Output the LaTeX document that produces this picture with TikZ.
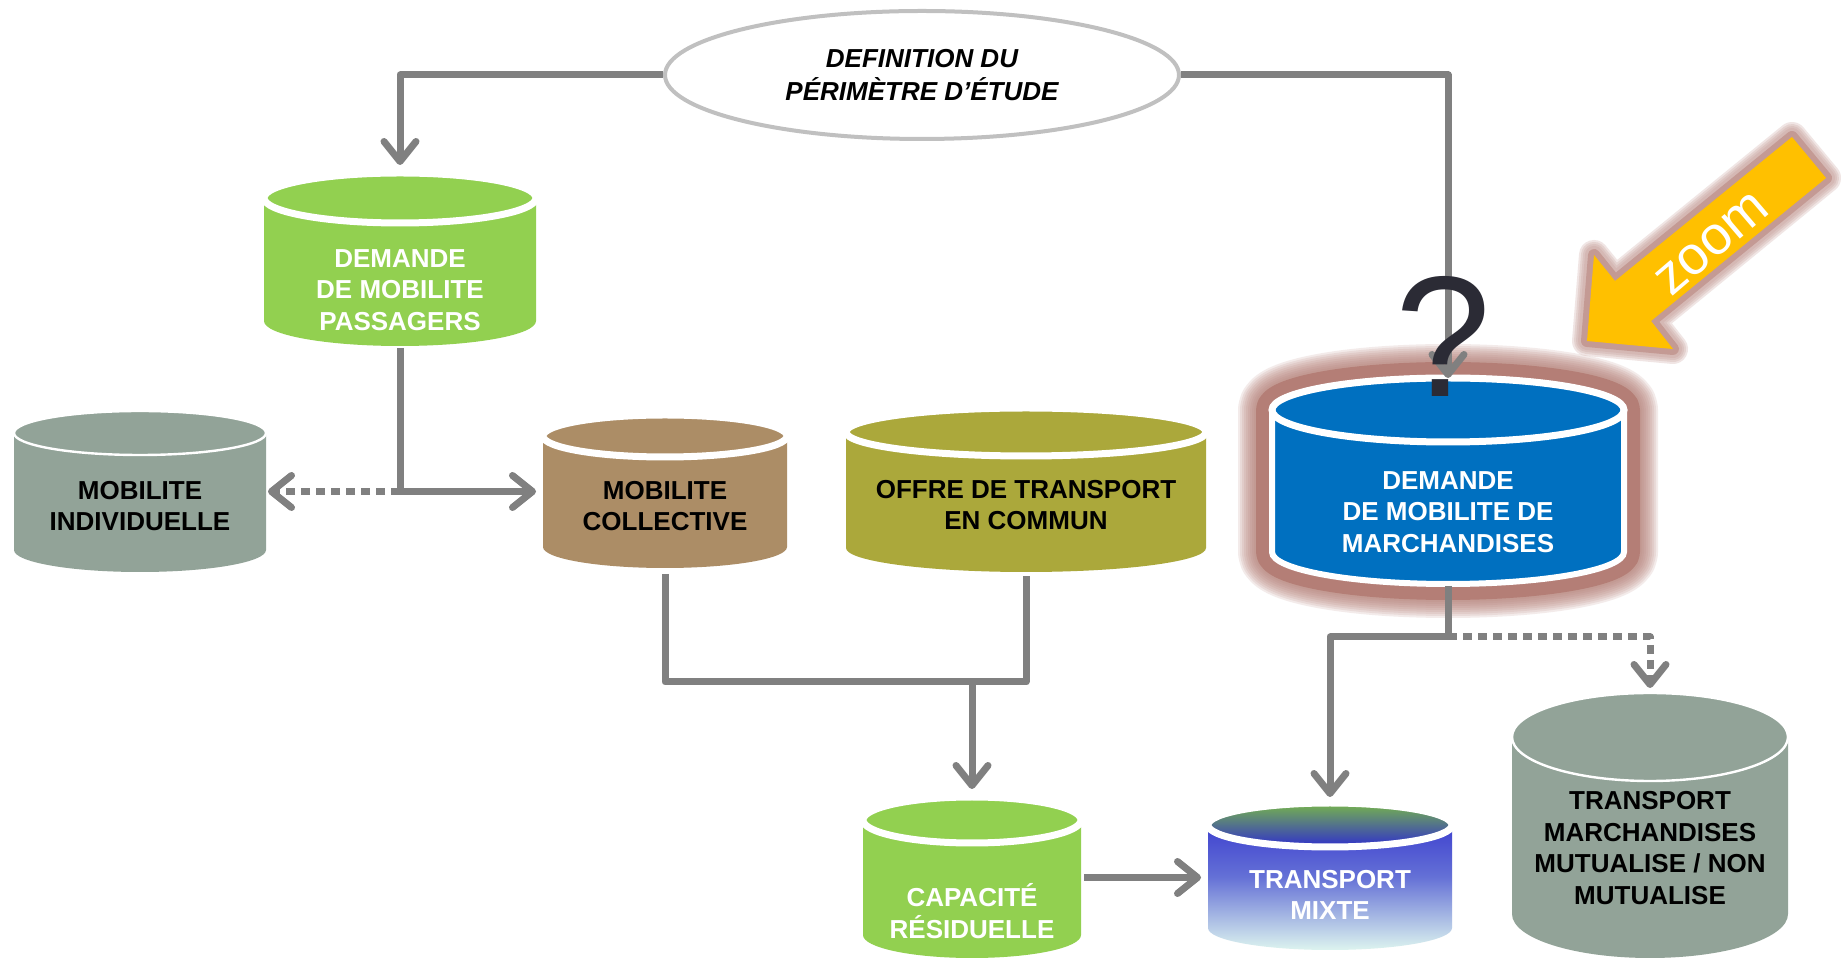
\documentclass[tikz,border=0pt]{standalone}
\usepackage{fontspec}
\setmainfont{Liberation Sans}
\usetikzlibrary{arrows.meta,shapes.geometric}

\definecolor{linegray}{HTML}{808080}
\definecolor{ellgray}{HTML}{C0C0C0}
\definecolor{leaf}{HTML}{92D050}
\definecolor{clay}{HTML}{AC8D66}
\definecolor{moss}{HTML}{ABA83B}
\definecolor{sage}{HTML}{92A398}
\definecolor{freight}{HTML}{0070C0}
\definecolor{halo}{HTML}{B47E76}
\definecolor{softhalo}{HTML}{C49A94}
\definecolor{amber}{HTML}{FFC000}
\definecolor{ink}{HTML}{2B2B35}
\definecolor{mixgreen}{HTML}{76B44C}
\definecolor{mixblue}{HTML}{2F2FCC}
\definecolor{mixmid}{HTML}{6470D6}
\definecolor{mixpale}{HTML}{DDF4EF}

% outline of a drum: centre x, top y, bottom y, half width, radius of the end ellipse
\newcommand\drumoutline[5]{%
 ({#1-#4},{#2+#5}) -- ({#1-#4},{#3-#5})
 .. controls ({#1-#4},{#3-0.4477*#5}) and ({#1-0.5523*#4},{#3}) .. ({#1},{#3})
 .. controls ({#1+0.5523*#4},{#3}) and ({#1+#4},{#3-0.4477*#5}) .. ({#1+#4},{#3-#5})
 -- ({#1+#4},{#2+#5})
 .. controls ({#1+#4},{#2+0.4477*#5}) and ({#1+0.5523*#4},{#2}) .. ({#1},{#2})
 .. controls ({#1-0.5523*#4},{#2}) and ({#1-#4},{#2+0.4477*#5}) .. ({#1-#4},{#2+#5}) -- cycle}

% outline of the zoom arrow
\newcommand\zoomoutline{%
 (1587,341) -- (1673,349) -- (1651,321) -- (1826,178) -- (1792,137)
 -- (1615,281) -- (1594,255) -- cycle}

% drum: name, centre x, top, bottom, half width, ry, body style, lid style
\newcommand\drum[8]{%
 \path[#7] \drumoutline{#2}{#3}{#4}{#5}{#6};
 \path[#8] ({#2},{#3+#6}) ellipse [x radius={#5}, y radius={#6}];
 \node[drumbox, minimum width={#5*1pt}, minimum height={(#4-#3)*0.5pt}] (#1) at ({#2},{(#3+#4)/2}) {};
}

\tikzset{
 chev/.tip={Straight Barb[length=10pt,width=16pt,line width=3.5pt,round]},
 link/.style={draw=linegray, line width=3.5pt, line join=round},
 dots/.style={dash pattern=on 4.5pt off 3pt},
 drumbox/.style={rectangle, draw=none, inner sep=0pt, outer sep=0pt},
 lbl/.style={align=center, font=\bfseries\fontsize{13}{15.75}\selectfont, inner sep=0pt},
 lblw/.style={lbl, text=white},
 lblk/.style={lbl, text=black},
 band/.style={draw=white, line width=3.5pt},
 thinband/.style={draw=white, line width=1.2pt},
}

\begin{document}
\begin{tikzpicture}[x=0.5pt, y=-0.5pt]
\path[use as bounding box, fill=white] (0,0) rectangle (1843,961);

% scope ellipse
\node[ellipse, draw=ellgray, line width=2pt, minimum width=257pt, minimum height=64pt,
      inner sep=0pt, align=center, font=\bfseries\itshape\fontsize{13}{16.5}\selectfont]
      (def) at (922,75) {DEFINITION DU\\PÉRIMÈTRE D’ÉTUDE};

% halo around the freight demand drum: solid core fading outwards
\foreach \w in {34,32,30,28,26,24,22,20,18}
  \draw[halo, draw opacity=0.15, line width=\w pt, line join=round] \drumoutline{1448}{378}{584}{176}{32};
\draw[halo, line width=16pt, line join=round] \drumoutline{1448}{378}{584}{176}{32};

% drums
\drum{pass}{400}{173}{346}{136}{25}{fill=leaf}{fill=leaf, band}
\drum{indiv}{140}{411}{572}{126}{22}{fill=sage}{fill=sage, thinband}
\drum{coll}{665}{415}{568}{122}{21}{fill=clay}{fill=clay, band}
\drum{offre}{1026}{408}{572}{180}{24}{fill=moss}{fill=moss, band}
\drum{march}{1448}{378}{584}{176}{32}{fill=freight, draw=white, line width=3pt}{fill=freight, band}
\drum{capa}{972}{797}{958}{109}{23}{fill=leaf}{fill=leaf, band}
\drum{mixte}{1330}{803}{950}{122}{22}{top color=mixblue, bottom color=mixpale, middle color=mixmid}{top color=mixgreen, bottom color=mixblue, band}
\drum{mutu}{1650}{693}{958}{138}{44}{fill=sage}{fill=sage, thinband}

% drum labels
\node[lblw] (tpass)  at (400,290)  {DEMANDE\\DE MOBILITE\\PASSAGERS};
\node[lblk] (tindiv) at (140,506)  {MOBILITE\\INDIVIDUELLE};
\node[lblk] (tcoll)  at (665,506)  {MOBILITE\\COLLECTIVE};
\node[lblk] (toffre) at (1026,505) {OFFRE DE TRANSPORT\\EN COMMUN};
\node[lblw] (tmarch) at (1448,512) {DEMANDE\\DE MOBILITE DE\\MARCHANDISES};
\node[lblw] (tcapa)  at (972,911)  {CAPACITÉ\\RÉSIDUELLE};
\node[lblw] (tmixte) at (1330,895) {TRANSPORT\\MIXTE};
\node[lblk] (tmutu)  at (1650,848) {TRANSPORT\\MARCHANDISES\\MUTUALISE / NON\\MUTUALISE};

% connectors
\draw[link,-chev] (def.west) -| ([yshift=4pt]pass.north);
\draw[link,-chev] (def.east) -| (march.north);

\coordinate (j0) at (pass.south |- coll.west);
\draw[link,-chev] ([yshift=-1pt]pass.south) -- (j0) -- ([xshift=-3.5pt]coll.west);
\draw[link,dots,-chev] (j0) -- ([xshift=1pt]indiv.east);

\coordinate (j1) at (972,682);
\draw[link] ([yshift=-3pt]coll.south) |- (j1) -| ([yshift=-2pt]offre.south);
\draw[link,-chev] (j1) -- ([yshift=4pt]capa.north);

\coordinate (cm) at (capa.east -| mixte.west);
\draw[link,-chev] ([xshift=1.5pt]capa.east) -- ([xshift=-3.5pt]cm);

\coordinate (j2) at (1448,637);
\draw[link] ([yshift=-1pt]march.south) -- (j2);
\draw[link,-chev] (j2) -| ([yshift=3pt]mixte.north);
\draw[link,dots,-chev] (j2) -| ([yshift=2.5pt]mutu.north);

% question mark over the freight drum
\node[font=\fontsize{86}{86}\selectfont, text=ink, anchor=base, inner sep=0pt] (qm) at (1443,397) {?};

% zoom arrow with its halo
\foreach \w in {15,13,11,9}
  \draw[softhalo, draw opacity=0.25, line width=\w pt, line join=round] \zoomoutline;
\draw[softhalo, line width=6pt, line join=round] \zoomoutline;
\fill[amber] \zoomoutline;
\node[rotate=40.5, text=white, font=\fontsize{27}{27}\selectfont, inner sep=0pt] (zm) at (1712,244) {zoom};
\end{tikzpicture}
\end{document}
